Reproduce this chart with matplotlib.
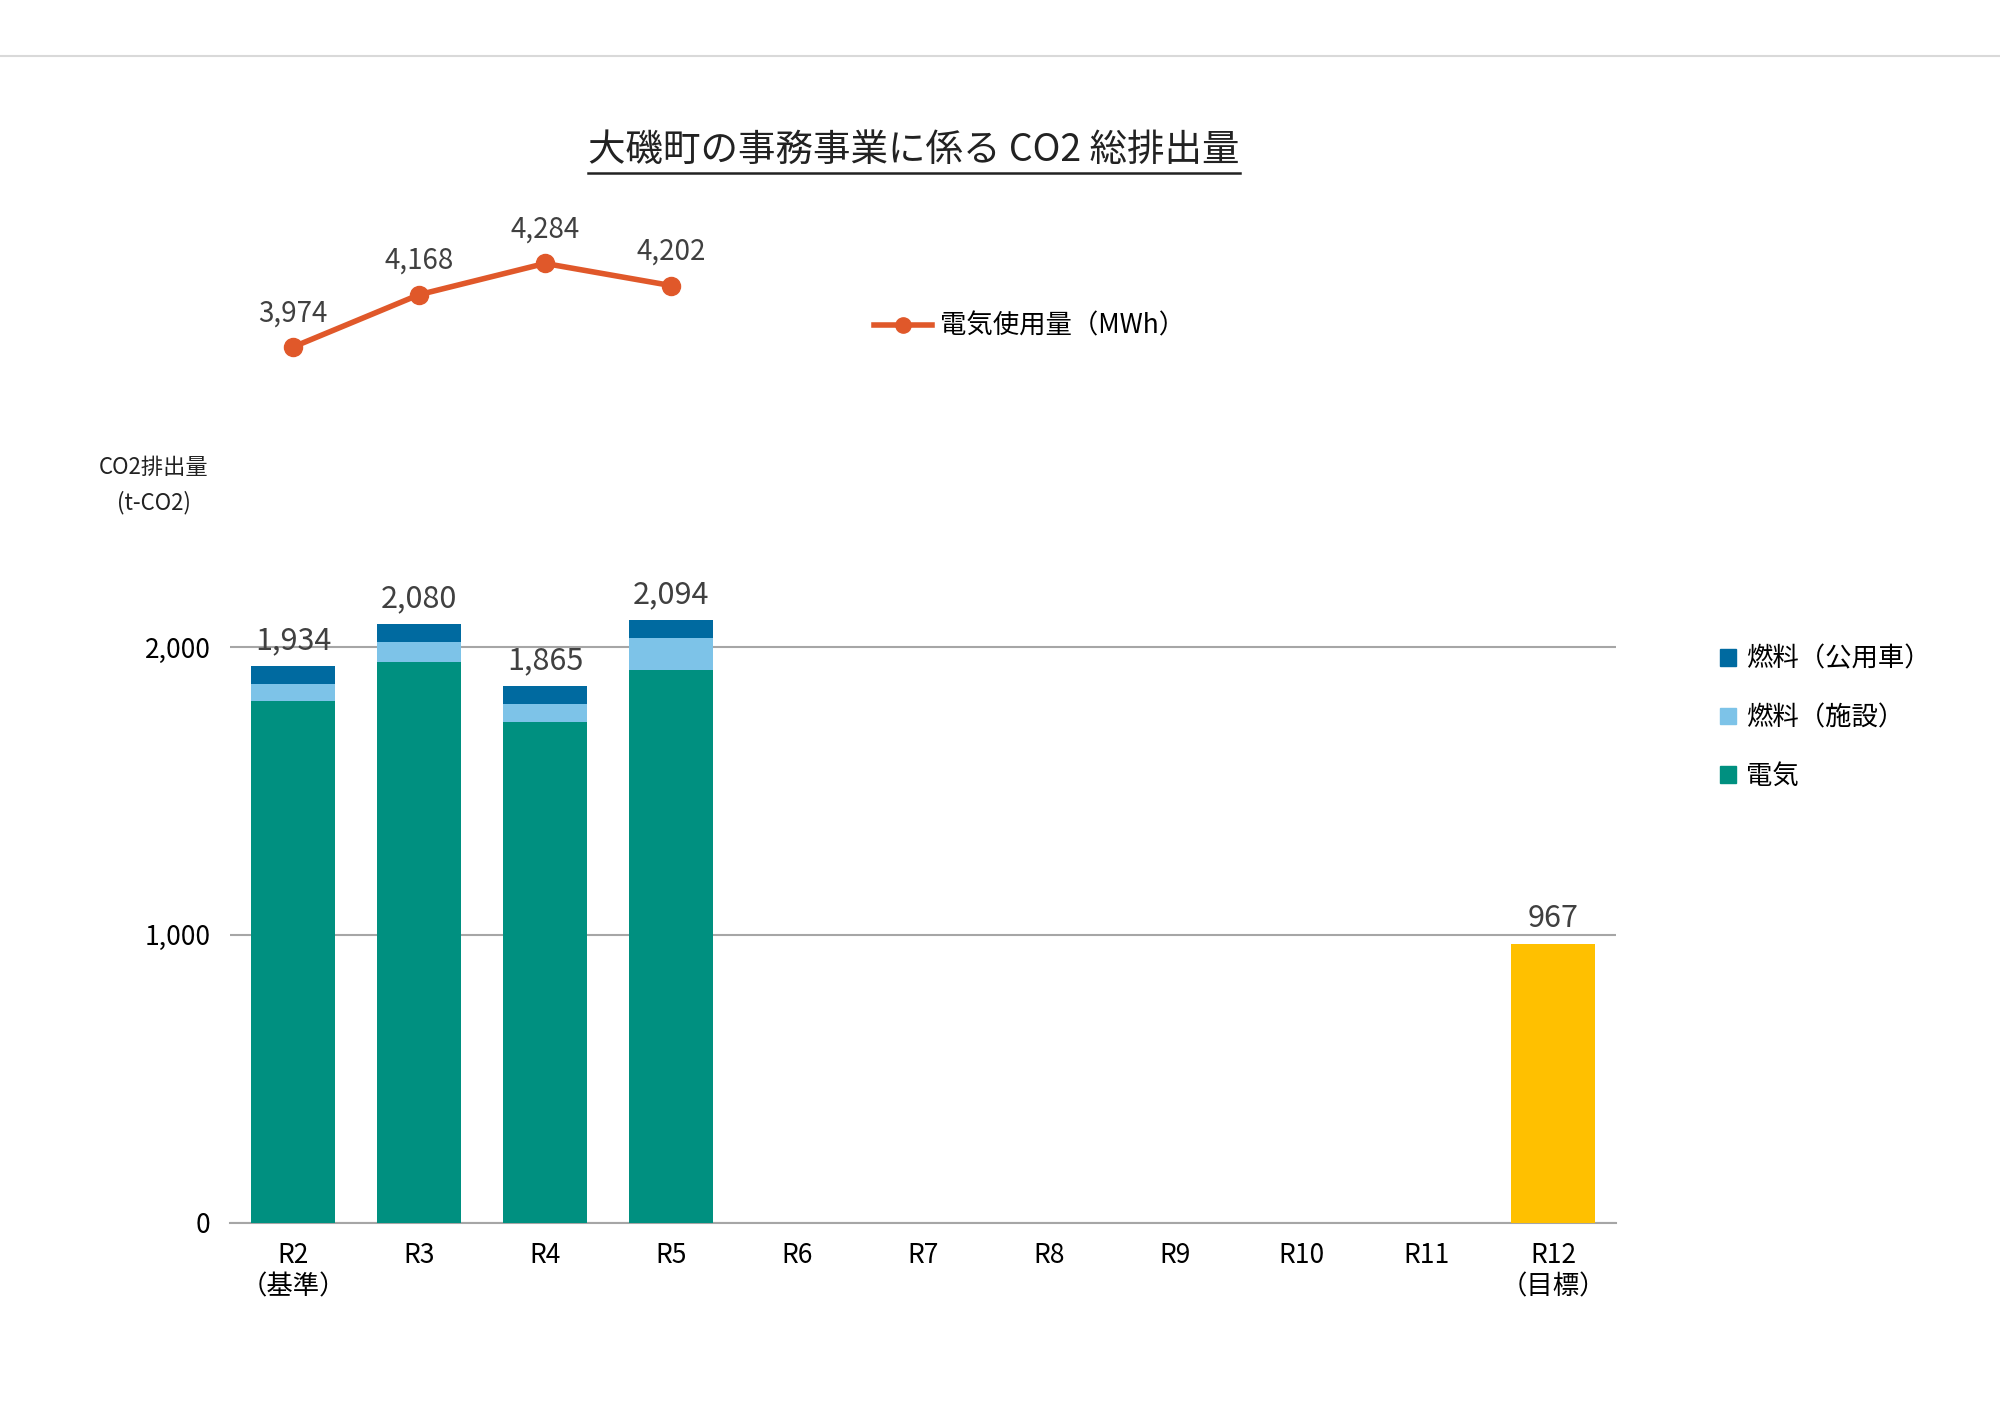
import matplotlib
matplotlib.use("Agg")
import matplotlib.pyplot as plt
from matplotlib.lines import Line2D
from matplotlib.patches import Patch

plt.rcParams["font.family"] = ["Noto Sans CJK JP"]

categories = ["R2\n（基準）", "R3", "R4", "R5", "R6", "R7", "R8", "R9", "R10", "R11", "R12\n（目標）"]
electricity = [1814, 1947, 1739, 1920, 0, 0, 0, 0, 0, 0, 0]
fuel_facility = [58, 71, 62, 111, 0, 0, 0, 0, 0, 0, 0]
fuel_vehicle = [62, 62, 64, 63, 0, 0, 0, 0, 0, 0, 0]
totals = [1934, 2080, 1865, 2094]
target = 967
power_mwh = [3974, 4168, 4284, 4202]

C_E, C_F, C_V, C_T, C_L = "#009080", "#7DC3E8", "#006AA0", "#FFC000", "#E0582A"
TXT = "#404040"

fig = plt.figure(figsize=(20, 14.07), dpi=100)
ax = fig.add_axes([0.115, 0.131, 0.693, 0.45])
x = list(range(len(categories)))
w = 0.66
n = len(totals)
ax.bar(x[:n], electricity[:n], w, color=C_E, zorder=3)
b2 = [e for e in electricity[:n]]
ax.bar(x[:n], fuel_facility[:n], w, bottom=b2, color=C_F, zorder=3)
b3 = [e + f for e, f in zip(electricity[:n], fuel_facility[:n])]
ax.bar(x[:n], fuel_vehicle[:n], w, bottom=b3, color=C_V, zorder=3)
ax.bar(x[-1], target, w, color=C_T, zorder=3)
for i, t in enumerate(totals):
    ax.text(i, t + 35, f"{t:,}", ha="center", va="bottom", fontsize=22, color=TXT)
ax.text(x[-1], target + 35, f"{target:,}", ha="center", va="bottom", fontsize=22, color=TXT)
ax.set_xlim(-0.5, len(categories) - 0.5)
ax.set_ylim(0, 2200)
ax.set_yticks([0, 1000, 2000])
ax.set_yticklabels(["0", "1,000", "2,000"], fontsize=19)
ax.set_xticks(x)
ax.set_xticklabels(categories, fontsize=19, va="top")
ax.tick_params(length=0, pad=14)
ax.grid(axis="y", color="#A6A6A6", linewidth=1.5, zorder=0)
for s in ["top", "right", "left"]:
    ax.spines[s].set_visible(False)
ax.spines["bottom"].set_color("#A6A6A6")
ax.spines["bottom"].set_linewidth(1.5)

# line axes
lx = fig.add_axes([0.115, 0.720, 0.693, 0.115])
lx.plot(x[:n], power_mwh, color=C_L, lw=4, marker="o", ms=13)
for i, v in enumerate(power_mwh):
    lx.text(i, v + 70, f"{v:,}", ha="center", va="bottom", fontsize=20, color=TXT)
lx.set_xlim(-0.5, len(categories) - 0.5)
lx.set_ylim(3800, 4400)
lx.axis("off")

fig.legend(handles=[Line2D([], [], color=C_L, lw=4, marker="o", ms=11)],
           labels=["電気使用量（MWh）"], loc="center left",
           bbox_to_anchor=(0.425, 0.768), frameon=False, fontsize=19,
           handlelength=2.2, handletextpad=0.3)
fig.legend(handles=[Patch(color=C_V), Patch(color=C_F), Patch(color=C_E)],
           labels=["燃料（公用車）", "燃料（施設）", "電気"], loc="upper left",
           bbox_to_anchor=(0.848, 0.558), frameon=False, fontsize=19,
           handlelength=0.6, handleheight=0.6, handletextpad=0.4, labelspacing=1.2)

fig.text(0.077, 0.655, "CO2排出量\n(t-CO2)", ha="center", va="center", fontsize=16,
         color="#222222", linespacing=1.6)

title = fig.text(0.457, 0.893, "大磯町の事務事業に係る CO2 総排出量", ha="center",
                 va="center", fontsize=27, color="#222222")
fig.canvas.draw()
bb = title.get_window_extent().transformed(fig.transFigure.inverted())
fig.add_artist(Line2D([bb.x0, bb.x1], [bb.y0 - 0.002, bb.y0 - 0.002], color="#222222", lw=1.8))
fig.add_artist(Line2D([0, 1], [0.96, 0.96], color="#D9D9D9", lw=1.5))

fig.savefig("out.png", dpi=100, facecolor="white")
